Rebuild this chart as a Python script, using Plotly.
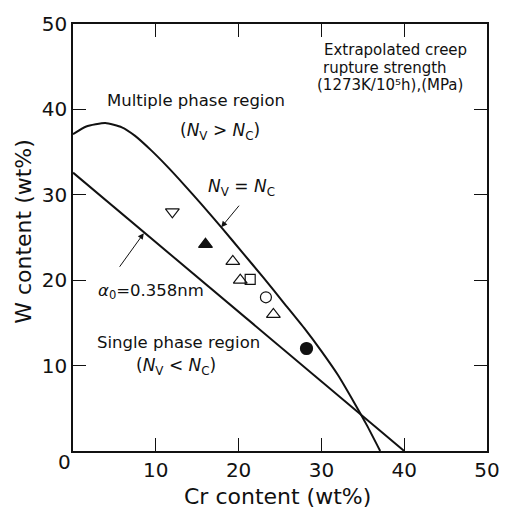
import plotly.graph_objects as go

# Boundary N_V = N_C (multiple / single phase)
upper_x = [0, 1.6, 3.9, 5.9, 7.5, 9.45, 11.4, 13.4, 15.5, 18.0, 20.5, 23.0, 25.5, 28.0, 30.0, 32.0, 34.0, 35.5, 37.1]
upper_y = [37.1, 38.0, 38.4, 37.9, 36.9, 35.2, 33.3, 31.2, 28.9, 26.1, 23.2, 20.3, 17.3, 14.3, 11.7, 8.9, 5.6, 3.0, 0]

# Lattice parameter a0 = 0.358 nm line
lower_x = [0, 40]
lower_y = [32.6, 0]

# Alloy data points: (Cr, W) per symbol
tri_down_open_x = [12.0]
tri_down_open_y = [28.0]
tri_up_filled_x = [16.0]
tri_up_filled_y = [24.2]
tri_up_open_x = [19.3, 20.2, 24.2]
tri_up_open_y = [22.2, 20.0, 16.0]
square_open_x = [21.4]
square_open_y = [20.1]
circle_open_x = [23.3]
circle_open_y = [18.0]
circle_filled_x = [28.2]
circle_filled_y = [12.0]

tick_vals = [10, 20, 30, 40, 50]
tick_text = ["10", "20", "30", "40", "50"]

FONT = "DejaVu Sans, Liberation Sans, Arial, sans-serif"
INK = "#111111"

fig = go.Figure()
fig.add_trace(go.Scatter(x=upper_x, y=upper_y, mode="lines",
                         line=dict(color=INK, width=2, shape="spline", smoothing=0.5),
                         hoverinfo="skip"))
fig.add_trace(go.Scatter(x=lower_x, y=lower_y, mode="lines",
                         line=dict(color=INK, width=2), hoverinfo="skip"))

def pts(x, y, symbol, size):
    fig.add_trace(go.Scatter(x=x, y=y, mode="markers",
                             marker=dict(symbol=symbol, size=size, color=INK,
                                         line=dict(color=INK, width=1.2))))

pts(tri_down_open_x, tri_down_open_y, "triangle-down-open", 12)
pts(tri_up_filled_x, tri_up_filled_y, "triangle-up", 12)
pts(tri_up_open_x, tri_up_open_y, "triangle-up-open", 12)
pts(square_open_x, square_open_y, "square-open", 10)
pts(circle_open_x, circle_open_y, "circle-open", 11)
pts(circle_filled_x, circle_filled_y, "circle", 12)

ann = []
def txt(x, y, t, xanchor="center", size=16.5):
    ann.append(dict(x=x, y=y, xref="x", yref="y", text=t, showarrow=False,
                    xanchor=xanchor, yanchor="middle",
                    font=dict(family=FONT, size=size, color=INK)))

txt(14.8, 41.0, "Multiple phase region")
txt(17.7, 37.4, "(<i>N</i><sub>V</sub> &gt; <i>N</i><sub>C</sub>)", size=17)
txt(20.3, 30.8, "<i>N</i><sub>V</sub> = <i>N</i><sub>C</sub>", size=17)
txt(9.4, 18.7, "<i>α</i><sub>0</sub>=0.358nm", size=16.5)
txt(12.8, 12.7, "Single phase region")
txt(12.4, 9.9, "(<i>N</i><sub>V</sub> &lt; <i>N</i><sub>C</sub>)", size=17)
txt(30.1, 46.9, "Extrapolated creep", xanchor="left", size=15)
txt(30.0, 44.9, "rupture strength", xanchor="left", size=15)
txt(29.2, 42.9, "(1273K/10⁵h),(MPa)", xanchor="left", size=15)

# arrows
ann.append(dict(x=17.9, y=26.2, ax=20.2, ay=28.9, xref="x", yref="y", axref="x", ayref="y",
                showarrow=True, arrowhead=2, arrowsize=1.2, arrowwidth=1, arrowcolor=INK, text=""))
ann.append(dict(x=8.55, y=25.5, ax=5.5, ay=21.4, xref="x", yref="y", axref="x", ayref="y",
                showarrow=True, arrowhead=2, arrowsize=1.2, arrowwidth=1, arrowcolor=INK, text=""))

# corner zero and axis titles
ann.append(dict(x=-0.021, y=-0.026, xref="paper", yref="paper", text="0", showarrow=False,
                xanchor="center", yanchor="middle", font=dict(family=FONT, size=20, color=INK)))
ann.append(dict(x=0.494, y=-0.107, xref="paper", yref="paper", text="Cr content (wt%)",
                showarrow=False, xanchor="center", yanchor="middle",
                font=dict(family=FONT, size=22, color=INK)))
ann.append(dict(x=-0.12, y=0.514, xref="paper", yref="paper", text="W content (wt%)",
                showarrow=False, xanchor="center", yanchor="middle", textangle=-90,
                font=dict(family=FONT, size=22, color=INK)))

axis_common = dict(range=[0, 50], tickvals=tick_vals, ticktext=tick_text,
                   ticks="inside", ticklen=13, tickwidth=1, tickcolor=INK,
                   showline=True, linecolor=INK, linewidth=1.5, mirror="ticks",
                   showgrid=False, zeroline=False,
                   tickfont=dict(family=FONT, size=20, color=INK))

fig.update_layout(
    width=512, height=509,
    margin=dict(l=73, r=14, t=21, b=58),
    paper_bgcolor="white", plot_bgcolor="white",
    showlegend=False,
    xaxis=axis_common,
    yaxis=axis_common,
    annotations=ann,
)

fig.write_html("out.html")
